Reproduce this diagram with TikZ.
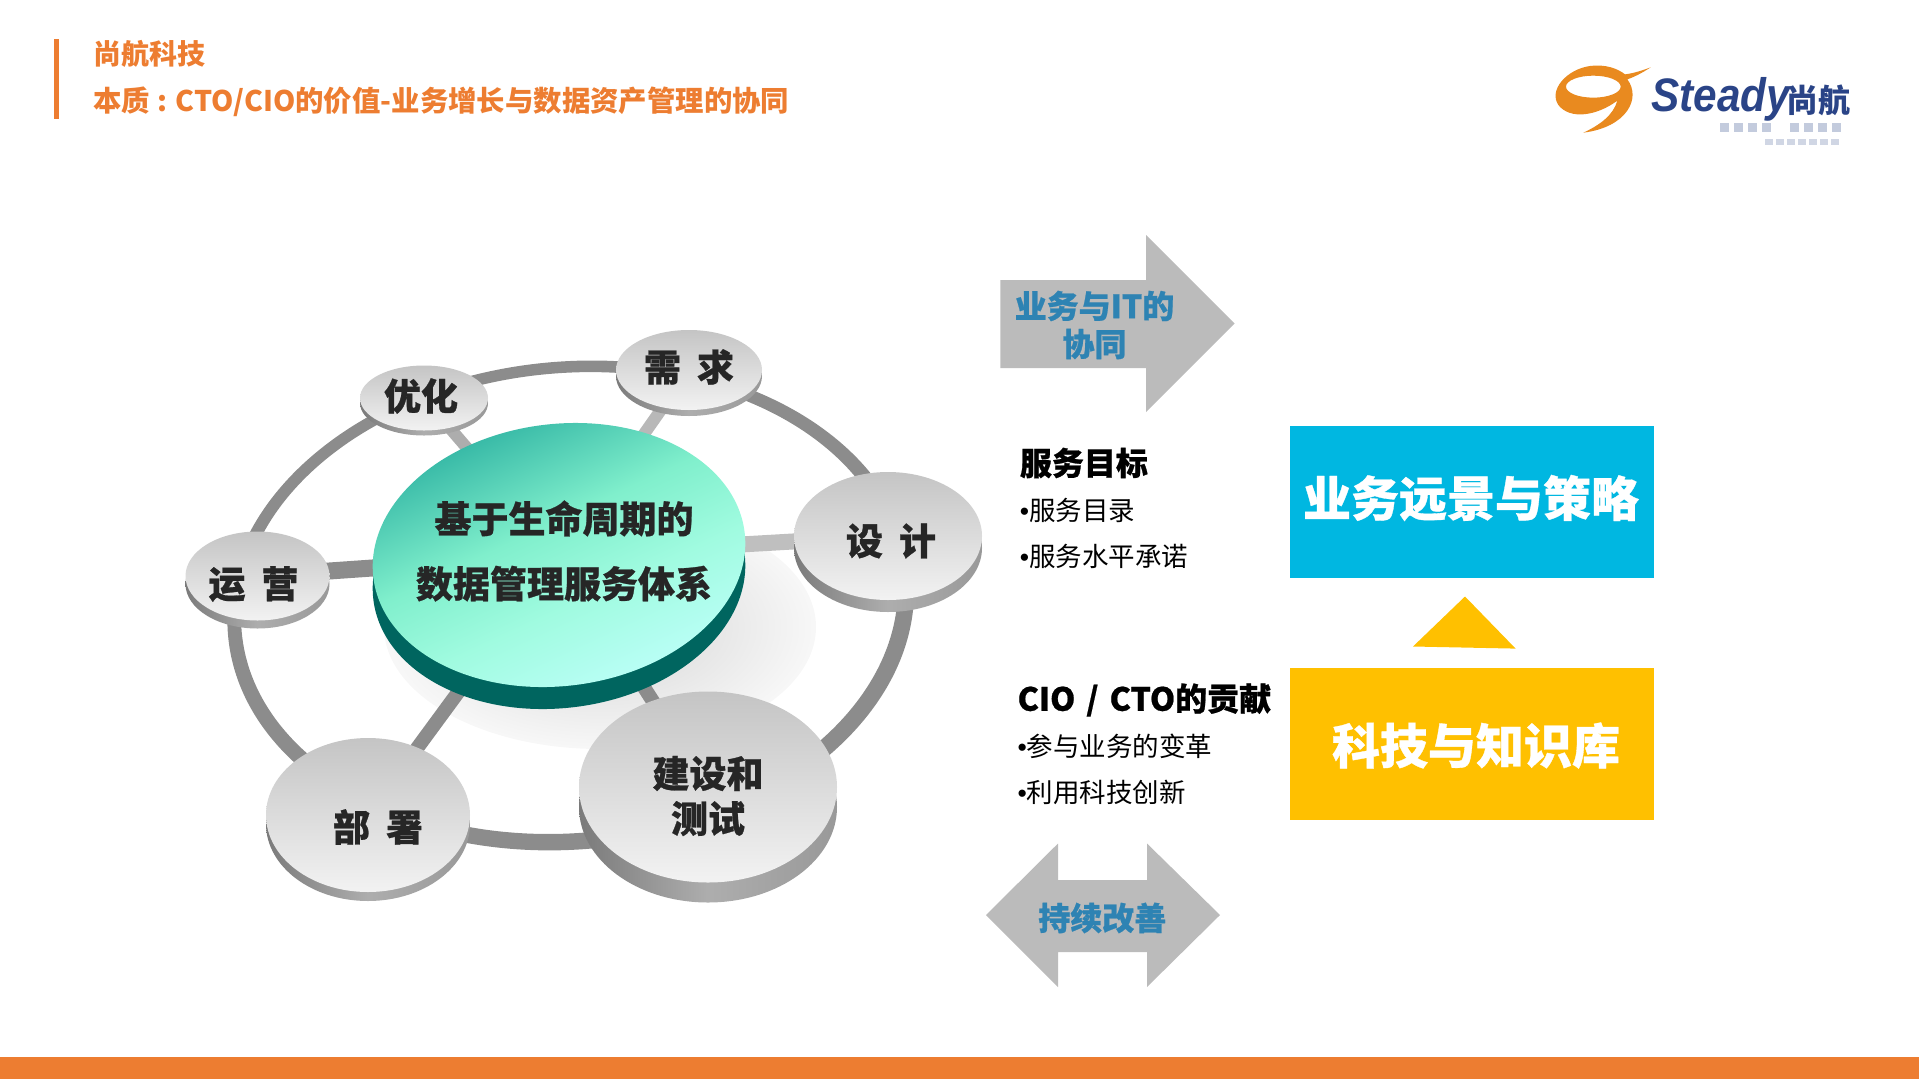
\documentclass[tikz,border=0pt]{standalone}
\usepackage{fontspec}
\setmainfont{Noto Sans CJK SC}
\newfontfamily\heavyfam{Noto Sans CJK SC}[BoldFeatures={FakeBold=0.7}]
\newfontfamily\latinlogo{Liberation Sans}
\usetikzlibrary{shapes.geometric}
\definecolor{orangeb}{HTML}{ED7D31}
\definecolor{logoorange}{HTML}{E98A1F}
\definecolor{arrowgray}{HTML}{BBBBBB}
\definecolor{tealtext}{HTML}{2E83B3}
\definecolor{skyb}{HTML}{00B7E1}
\definecolor{gold}{HTML}{FFC000}
\definecolor{navy}{HTML}{2A4487}
\definecolor{darktext}{HTML}{262626}
\definecolor{ringgray}{HTML}{8C8C8C}
\definecolor{discA}{HTML}{2BB0A0}
\definecolor{discB}{HTML}{A0FBE0}
\definecolor{discM}{HTML}{80EFCC}
\definecolor{discC}{HTML}{BEFFFA}
\definecolor{discS}{HTML}{00655F}
\pgfdeclareverticalshading{discshade}{100bp}{color(0bp)=(discC); color(25bp)=(discC); color(42bp)=(discB); color(55bp)=(discM); color(75bp)=(discA); color(100bp)=(discA)}
\newcommand{\fsz}[2]{\fontsize{#1pt}{#2pt}\selectfont}
\newcommand{\gapc}{\hspace{16pt}}
\newcommand{\blt}{{\latinlogo •}}
\pgfdeclarelayer{bg}
\pgfsetlayers{bg,main}
\tikzset{
  x=1pt,y=-1pt,
  graytop/.style={ellipse,inner sep=0pt,outer sep=0pt,top color=black!23,bottom color=black!5},
  grayside/.style={ellipse,inner sep=0pt,outer sep=0pt,left color=black!52,right color=black!40,middle color=black!32},
  spoke/.style={line width=#1},
  disclabel/.style={font=\heavyfam\bfseries\fsz{37}{45},text=darktext,align=center},
  band/.style={font=\heavyfam\bfseries\fsz{48}{56},text=white,inner sep=0pt},
  arrowlabel/.style={font=\heavyfam\bfseries\fsz{32}{38},text=tealtext,align=center,inner sep=0pt},
  headline/.style={font=\heavyfam\bfseries\fsz{32}{38},text=black,anchor=west,inner sep=0pt},
  itemline/.style={font=\fsz{26.5}{30},text=black,anchor=west,inner sep=0pt},
  titleline/.style={font=\bfseries\fsz{28}{32},text=orangeb,anchor=west,inner sep=0pt},
}
\begin{document}
\begin{tikzpicture}
\useasboundingbox (0,0) rectangle (1919,1079);
% header and footer
\fill[orangeb] (54,39) rectangle (59,119);
\fill[orangeb] (0,1057) rectangle (1919,1079);
\node[titleline] (t1) at (93,54) {尚航科技};
\node[titleline,font=\bfseries\fsz{28.4}{32}] (t2) at (93,102) {本质\hspace{8pt}:\hspace{8pt}CTO/CIO的价值-业务增长与数据资产管理的协同};
% logo
\begin{scope}[shift={(1530,40)},x=0.3333pt,y=-0.3333pt]
\fill[logoorange,even odd rule] (362,82) .. controls (335,100) and (310,112) .. (292,118)
  .. controls (335,175) and (290,262) .. (160,278)
  .. controls (210,255) and (250,225) .. (262,182)
  .. controls (200,228) and (120,240) .. (85,195)
  .. controls (55,150) and (110,88) .. (180,78)
  .. controls (225,72) and (262,85) .. (285,103)
  .. controls (310,100) and (335,92) .. (362,82) -- cycle
  (190,140) ellipse [x radius=82,y radius=33];
\end{scope}
\node[font=\latinlogo\bfseries\itshape\fsz{47}{50},text=navy,anchor=west,inner sep=0pt,xscale=0.9] (logoa) at (1651,99) {Steady};
\node[font=\bfseries\fsz{32}{34},text=navy,anchor=west,inner sep=0pt] (logob) at (1786,100) {尚航};
\foreach \x in {1720,1734,1748,1762,1790,1804,1818,1832}{\fill[navy!28] (\x,123) rectangle +(9,9);}
\foreach \x in {1765,1776,1787,1798,1809,1820,1831}{\fill[navy!22] (\x,139) rectangle +(8,6);}
% central wheel
\node[ellipse,inner sep=0pt,outer sep=0pt,fill=discS,rotate=7,minimum width=374pt,minimum height=262pt] (discside) at (559,577) {};
\node[ellipse,inner sep=0pt,outer sep=0pt,minimum width=374pt,minimum height=262pt,rotate=7,shading=discshade,shading angle=25] (disc) at (559,555) {};
\node[disclabel] (disctext) at (564,551) {基于生命周期的\\[20pt]数据管理服务体系};
% satellites
\node[grayside,minimum width=146pt,minimum height=80pt] at (689,376) {};
\node[graytop,minimum width=146pt,minimum height=80pt,label={[disclabel,yshift=3pt]center:需\gapc 求}] (need) at (689,370) {};
\node[grayside,minimum width=128pt,minimum height=65pt] at (424,403) {};
\node[graytop,minimum width=128pt,minimum height=65pt,label={[disclabel,yshift=2pt,xshift=-3pt]center:优化}] (opt) at (424,398) {};
\node[grayside,minimum width=188pt,minimum height=128pt] at (888,548) {};
\node[graytop,minimum width=188pt,minimum height=128pt,label={[disclabel,yshift=-5pt,xshift=3pt]center:设\gapc 计}] (design) at (888,536) {};
\node[grayside,minimum width=144pt,minimum height=89pt] at (257.5,584) {};
\node[graytop,minimum width=144pt,minimum height=89pt,label={[disclabel,yshift=-8pt,xshift=-4pt]center:运\gapc 营}] (ops) at (257.5,576) {};
\node[grayside,minimum width=204pt,minimum height=154pt] at (368,824) {};
\node[graytop,minimum width=204pt,minimum height=154pt,label={[disclabel,yshift=-12pt,xshift=10pt]center:部\gapc 署}] (deploy) at (368,815) {};
\node[grayside,minimum width=258pt,minimum height=191pt] at (708,807) {};
\node[graytop,minimum width=258pt,minimum height=191pt,label={[disclabel,yshift=-9pt]center:建设和\\测试}] (build) at (708,787) {};
\begin{pgfonlayer}{bg}
\shade[inner color=black!17,outer color=black!3] (600,627) ellipse [x radius=216,y radius=122];
\begin{scope}[rotate around={5:(570,605)}]
\fill[ringgray,even odd rule] (570.7,605.5) ellipse [x radius=344,y radius=244] (569.6,603) ellipse [x radius=329,y radius=230];
\end{scope}
\draw[spoke=12pt,color=black!32] (disc.center) -- (opt.center);
\draw[spoke=12pt,color=black!28] (disc.center) -- (need.center);
\draw[spoke=16pt,color=black!25] (disc.center) -- (design.center);
\draw[spoke=17pt,color=ringgray] (disc.center) -- (ops.center);
\draw[spoke=14pt,color=ringgray] (disc.center) -- (deploy.center);
\draw[spoke=14pt,color=ringgray] (disc.center) -- (build.center);
\end{pgfonlayer}
% arrows
\fill[arrowgray] (1000.4,280) -- (1146,280) -- (1146,235) -- (1234.6,323.6) -- (1146,412) -- (1146,368) -- (1000.4,368) -- cycle;
\node[arrowlabel] (syn) at (1094.5,325) {业务与IT的\\协同};
\fill[arrowgray] (986,915) -- (1058,843.5) -- (1058,880) -- (1147,880) -- (1147,843.5) -- (1220,915) -- (1147,987) -- (1147,952) -- (1058,952) -- (1058,987) -- cycle;
\node[arrowlabel] (impr) at (1102.3,918) {持续改善};
% text blocks
\node[headline] (h1) at (1019.7,463) {服务目标};
\node[itemline] (i1) at (1019.7,510) {\blt 服务目录};
\node[itemline] (i2) at (1019.7,556) {\blt 服务水平承诺};
\node[headline] (h2) at (1017.4,700) {CIO\hspace{11pt}/\hspace{11pt}CTO的贡献};
\node[itemline] (i3) at (1017.4,746.5) {\blt 参与业务的变革};
\node[itemline] (i4) at (1017.4,792) {\blt 利用科技创新};
% boxes
\fill[skyb] (1290,426) rectangle (1654,578);
\node[band] (vis) at (1471,498) {业务远景与策略};
\fill[gold] (1413,646.5) -- (1465,596.5) -- (1515.6,648.6) -- cycle;
\fill[gold] (1290,668) rectangle (1654,819.5);
\node[band] (kb) at (1476,745.5) {科技与知识库};
\end{tikzpicture}
\end{document}
